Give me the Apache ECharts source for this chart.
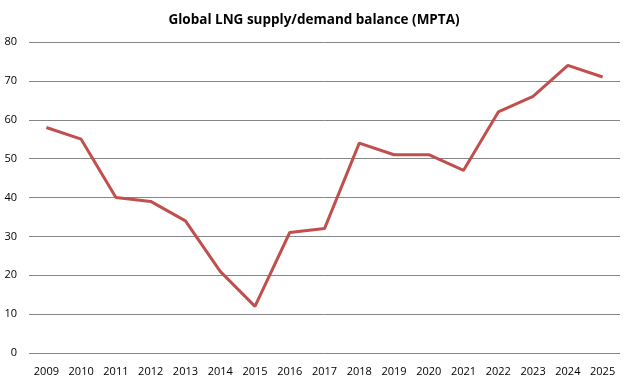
<!DOCTYPE html>
<html><head><meta charset="utf-8">
<script src="https://cdn.jsdelivr.net/npm/echarts@6/dist/echarts.min.js"></script>
<style>html,body{margin:0;padding:0;background:#fff}#c{width:628px;height:384px}</style>
</head><body><div id="c"></div>
<script>
const categories = ['2009','2010','2011','2012','2013','2014','2015','2016','2017','2018','2019','2020','2021','2022','2023','2024','2025'];
const balance = [58,55,40,39,34,21,12,31,32,54,51,51,47,62,66,74,71];
const yTicks = {min:0, max:80, interval:10};
const chart = echarts.init(document.getElementById('c'), null, {renderer:'canvas'});
chart.setOption({
  animation:false,
  backgroundColor:'#fff',
  title:{text:'Global LNG supply/demand balance (MPTA)', left:'center', top:8,
    textStyle:{fontFamily:'Open Sans', fontWeight:'bold', fontSize:13.5, color:'#000'}},
  grid:{left:29, right:8, top:42, bottom:31},
  xAxis:{type:'category', data:categories, boundaryGap:true,
    axisLine:{show:false}, axisTick:{show:false},
    axisLabel:{fontFamily:'Open Sans', fontSize:11, color:'#000', margin:13, interval:0}},
  yAxis:{type:'value', min:yTicks.min, max:yTicks.max, interval:yTicks.interval,
    axisLine:{show:false}, axisTick:{show:false},
    axisLabel:{fontFamily:'Open Sans', fontSize:11, color:'#000', margin:12},
    splitLine:{lineStyle:{color:'#868686', width:1}}},
  series:[{type:'line', data:balance, symbol:'none',
    lineStyle:{color:'#C0504D', width:3}}]
});
</script></body></html>
